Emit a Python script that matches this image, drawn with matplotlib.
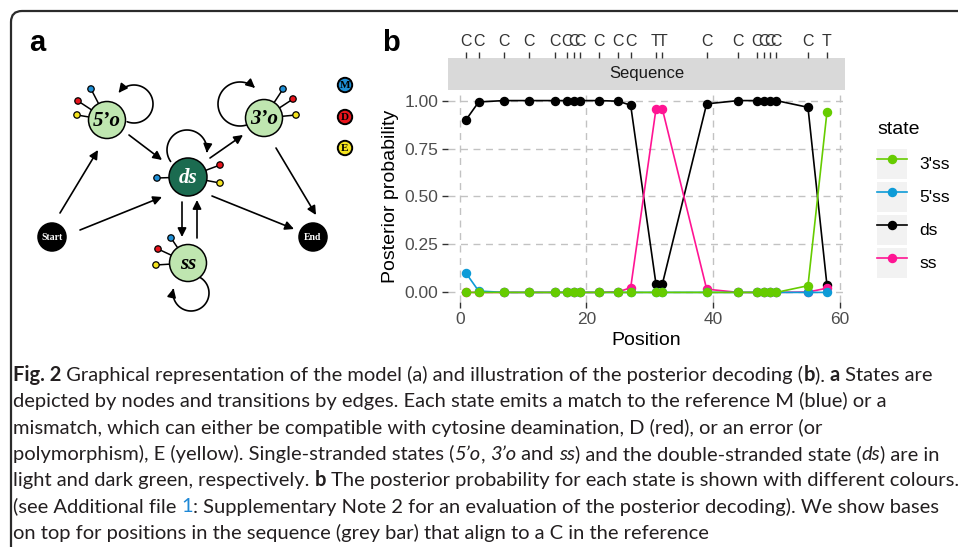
import numpy as np
import matplotlib
matplotlib.use('Agg')
import matplotlib.pyplot as plt
from matplotlib.patches import Circle, Rectangle, FancyArrowPatch, PathPatch
from matplotlib.path import Path
from matplotlib.legend_handler import HandlerLine2D

plt.rcParams['font.family'] = ['Liberation Sans', 'DejaVu Sans']

# posterior decoding
positions = [1, 3, 7, 11, 15, 17, 18, 19, 22, 25, 27, 31, 32, 39, 44, 47, 48, 49, 50, 55, 58]
bases = ['C', 'C', 'C', 'C', 'C', 'C', 'C', 'C', 'C', 'C', 'C',
         'T', 'T', 'C', 'C', 'C', 'C', 'C', 'C', 'C', 'T']
p_ds = [0.90, 0.993, 1.0, 1.0, 1.0, 1.0, 1.0, 1.0, 1.0, 0.997, 0.976,
        0.043, 0.043, 0.983, 1.0, 1.0, 1.0, 1.0, 1.0, 0.965, 0.038]
p_ss = [0.0, 0.0, 0.0, 0.0, 0.0, 0.0, 0.0, 0.0, 0.0, 0.003, 0.024,
        0.957, 0.957, 0.017, 0.0, 0.0, 0.0, 0.0, 0.0, 0.002, 0.022]
p_5ss = [0.10, 0.007, 0.0, 0.0, 0.0, 0.0, 0.0, 0.0, 0.0, 0.0, 0.0,
         0.0, 0.0, 0.0, 0.0, 0.0, 0.0, 0.0, 0.0, 0.0, 0.0]
p_3ss = [0.0, 0.0, 0.0, 0.0, 0.0, 0.0, 0.0, 0.0, 0.0, 0.0, 0.0,
         0.0, 0.0, 0.0, 0.0, 0.0, 0.0, 0.0, 0.0, 0.035, 0.94]
states = ["3'ss", "5'ss", "ds", "ss"]
state_colors = ['#66cc00', '#0d9bd7', 'black', '#ff1493']
state_values = [p_3ss, p_5ss, p_ds, p_ss]

# caption, one list of (text, style) runs per printed line
caption = [
    [("Fig. 2", 'bold'), (" Graphical representation of the model (a) and illustration of the posterior decoding (", ''),
     ("b", 'bold'), ("). ", ''), ("a", 'bold'), (" States are", '')],
    [("depicted by nodes and transitions by edges. Each state emits a match to the reference M (blue) or a", '')],
    [("mismatch, which can either be compatible with cytosine deamination, D (red), or an error (or", '')],
    [("polymorphism), E (yellow). Single-stranded states (", ''), ("5\u2019o", 'italic'), (", ", ''),
     ("3\u2019o", 'italic'), (" and ", ''), ("ss", 'italic'), (") and the double-stranded state (", ''),
     ("ds", 'italic'), (") are in", '')],
    [("light and dark green, respectively. ", ''), ("b", 'bold'),
     (" The posterior probability for each state is shown with different colours.", '')],
    [("(see Additional file ", ''), ("1", 'link'),
     (": Supplementary Note 2 for an evaluation of the posterior decoding). We show bases", '')],
    [("on top for positions in the sequence (grey bar) that align to a C in the reference", '')],
]

W, H = 958, 547
fig = plt.figure(figsize=(W / 100, H / 100), dpi=100)

# overlay in pixel coordinates for panel a, frame and caption
ax0 = fig.add_axes([0, 0, 1, 1])
ax0.set_xlim(0, W)
ax0.set_ylim(H, 0)
ax0.axis('off')

# frame: left rule and top rule with a rounded corner
frame = Path([(11, H), (11, 22), (11, 11), (22, 11), (W, 11)],
             [Path.MOVETO, Path.LINETO, Path.CURVE3, Path.CURVE3, Path.LINETO])
ax0.add_patch(PathPatch(frame, fill=False, edgecolor='#2b2b2b', lw=1.6))

ax0.text(37, 43, 'a', fontsize=21, fontweight='bold', ha='center', va='center')
ax0.text(391, 43, 'b', fontsize=21, fontweight='bold', ha='center', va='center')

# ---- panel a: model graph ----
light = '#bfe6b0'
dark = '#1b6b50'
em_col = {'M': '#1e8fd6', 'D': '#e8141c', 'E': '#f5e41e'}
serif = ['Liberation Serif', 'DejaVu Serif']

def arrow(p0, p1):
    ax0.annotate('', xy=p1, xytext=p0,
                 arrowprops=dict(arrowstyle='-|>', color='black', lw=1.2,
                                 mutation_scale=13, shrinkA=0, shrinkB=0))

def loop(cx, cy, r, a0, a1):
    t = np.radians(np.linspace(a0, a1, 60))
    verts = np.column_stack([cx + r * np.cos(t), cy + r * np.sin(t)])
    ax0.add_patch(FancyArrowPatch(path=Path(verts), arrowstyle='-|>', color='black',
                                  lw=1.2, mutation_scale=13))

def emitters(c, dots):
    for key, (x, y) in dots.items():
        ax0.plot([c[0], x], [c[1], y], color='black', lw=1.1, zorder=2)
        ax0.add_patch(Circle((x, y), 3.2, facecolor=em_col[key], edgecolor='black', lw=0.9, zorder=3))

def node(c, r, fc, label, tc='black', size=15, style='italic'):
    ax0.add_patch(Circle(c, r, facecolor=fc, edgecolor='black', lw=1.1, zorder=4))
    ax0.text(c[0], c[1] + 1, label, color=tc, fontsize=size, fontweight='bold', fontstyle=style,
             family=serif, ha='center', va='center', zorder=5)

n5, n3, nds, nss = (107, 120), (264, 118), (188, 177), (188, 263)
nstart, nend = (52, 237), (313, 237)

emitters(n5, {'M': (91, 89), 'D': (78, 101), 'E': (77, 115)})
emitters(n3, {'M': (283, 89), 'D': (293, 99), 'E': (296, 115)})
emitters(nds, {'M': (157, 178), 'D': (220, 165), 'E': (220, 183)})
emitters(nss, {'M': (171, 238), 'D': (158, 249), 'E': (156, 265)})

node(n5, 18.5, light, '5\u2019o')
node(n3, 18.5, light, '3\u2019o')
node(nds, 19, dark, 'ds', tc='white')
node(nss, 18.5, light, 'ss')
node(nstart, 14, 'black', 'Start', tc='white', size=7, style='normal')
node(nend, 14, 'black', 'End', tc='white', size=7, style='normal')

arrow((60, 213), (98, 150))
arrow((80, 230), (162, 197))
arrow((129, 135), (162, 160))
arrow((210, 158), (243, 135))
arrow((276, 148), (316, 215))
arrow((212, 196), (294, 229))
arrow((182, 202), (182, 237))
arrow((197, 238), (197, 200))

loop(134, 104, 19, 111, -144)
loop(240, 104, 22, 73, 313)
loop(187, 150, 20, 145, 368)
loop(191, 293, 18, -65, 195)

for key, y in zip(['M', 'D', 'E'], [85, 117, 148]):
    ax0.add_patch(Circle((345, y), 7.2, facecolor=em_col[key], edgecolor='black', lw=1.4))
    ax0.text(345, y + 0.5, key, fontsize=8, fontweight='bold', family=serif, ha='center', va='center')

# ---- panel b: posterior decoding ----
ax = fig.add_axes([448 / W, 1 - 302 / H, 397 / W, 211 / H])
handles = {}
# ds first, 3'ss last so the green points sit on top along zero
for z, name in enumerate(["ds", "ss", "5'ss", "3'ss"]):
    i = states.index(name)
    ln, = ax.plot(positions, state_values[i], color=state_colors[i], lw=1.2,
                  marker='o', markersize=5.8, zorder=3 + z)
    handles[name] = ln
ax.set_xlim(-1.85, 60.85)
ax.set_ylim(-0.05, 1.05)
ax.set_xticks([0, 20, 40, 60])
ax.set_yticks([0, 0.25, 0.5, 0.75, 1.0], labels=['0.00', '0.25', '0.50', '0.75', '1.00'])
ax.grid(color='#c2c2c2', linestyle=(0, (5, 4)), lw=1)
ax.set_axisbelow(True)
for s in ax.spines.values():
    s.set_visible(False)
ax.tick_params(length=4, width=1, color='#333333', labelsize=12.5, labelcolor='#4d4d4d', pad=3)
ax.set_xlabel('Position', fontsize=14, labelpad=4)
ax.set_ylabel('Posterior probability', fontsize=14, labelpad=4)

# grey facet strip with the aligned bases on top
ax_s = fig.add_axes([448 / W, 1 - 90 / H, 397 / W, 32 / H])
ax_s.set_facecolor('#d9d9d9')
ax_s.set_xlim(ax.get_xlim())
ax_s.set_yticks([])
ax_s.set_xticks(positions, labels=bases)
ax_s.tick_params(axis='x', top=True, bottom=False, labeltop=True, labelbottom=False,
                 length=4.5, width=1, color='#333333', labelsize=11.5, labelcolor='#333333', pad=2)
for s in ax_s.spines.values():
    s.set_visible(False)
ax_s.text(0.5, 0.5, 'Sequence', transform=ax_s.transAxes, ha='center', va='center',
          fontsize=12, color='#1a1a1a')

class KeyBox(HandlerLine2D):
    def create_artists(self, legend, orig_handle, xdescent, ydescent, width, height, fontsize, trans):
        box = Rectangle((-xdescent, -ydescent), width, height, facecolor='#f2f2f2',
                        edgecolor='none', transform=trans)
        return [box] + super().create_artists(legend, orig_handle, xdescent, ydescent,
                                              width, height, fontsize, trans)

leg = ax.legend([handles[n] for n in states], states, title='state', loc='upper left',
                bbox_to_anchor=(877 / W, 1 - 121 / H), bbox_transform=fig.transFigure,
                frameon=False, fontsize=12.5, title_fontsize=14, numpoints=1,
                handlelength=1.73, handleheight=2.28, handletextpad=0.7, labelspacing=0.17,
                borderpad=0, borderaxespad=0, alignment='left',
                handler_map={h: KeyBox() for h in handles.values()})
leg._legend_box.sep = 8  # gap between the title and the keys

# ---- caption ----
cap_font = ['Lato', 'Open Sans', 'DejaVu Sans']
renderer = fig.canvas.get_renderer()

def put_line(runs, y, size, x0=13):
    x = x0
    made = []
    for s, st in runs:
        t = ax0.text(x, y, s, fontsize=size, family=cap_font, va='baseline', ha='left',
                     fontweight='bold' if st == 'bold' else 'normal',
                     fontstyle='italic' if st == 'italic' else 'normal',
                     color='#1e88d6' if st == 'link' else '#231f20')
        x += t.get_window_extent(renderer).width
        made.append(t)
    return x - x0, made

# size the caption so the first line fills the width it has in the figure
w10, tmp = put_line(caption[0], 0, 10)
for t in tmp:
    t.remove()
cap_size = 10 * 924 / w10

for k, runs in enumerate(caption):
    put_line(runs, 381 + k * 26.3, cap_size)

fig.savefig('out.png', dpi=100)
